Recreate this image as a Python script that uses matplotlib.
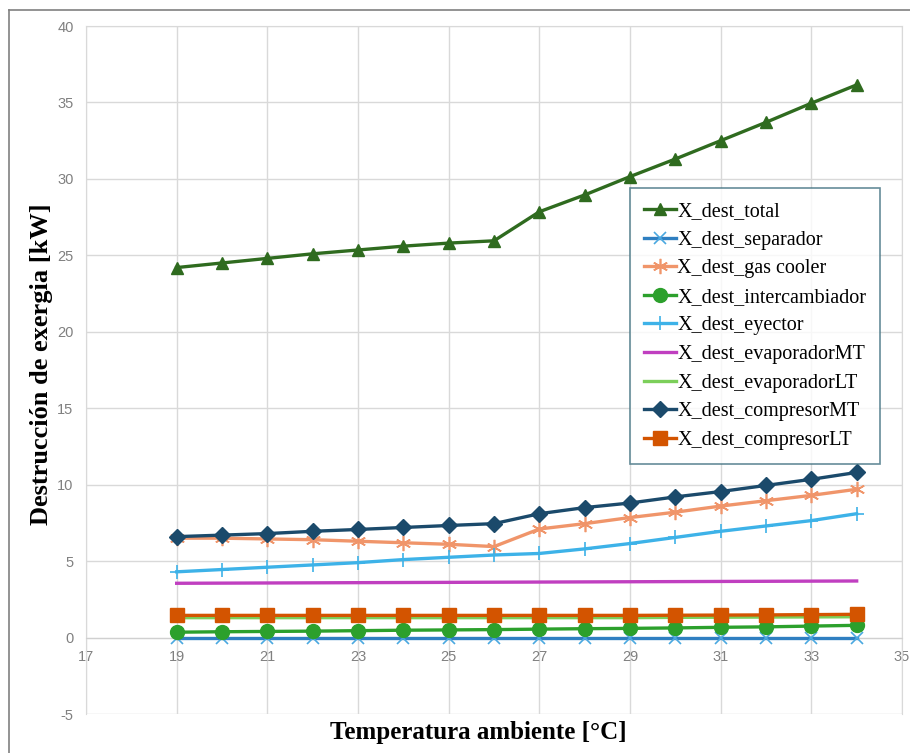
import numpy as np
import matplotlib
matplotlib.use('Agg')
import matplotlib.pyplot as plt
from matplotlib.lines import Line2D

plt.rcParams['axes.unicode_minus'] = False

# Temperatura ambiente [°C]
temp = [19, 20, 21, 22, 23, 24, 25, 26, 27, 28, 29, 30, 31, 32, 33, 34]

# Destrucción de exergía por componente [kW]
x_total = [24.2, 24.5, 24.8, 25.1, 25.35, 25.6, 25.8, 25.95, 27.85, 28.95, 30.15, 31.3, 32.5, 33.7, 34.95, 36.15]
x_separador = [0.0] * 16
x_gas_cooler = [6.5, 6.5, 6.45, 6.4, 6.3, 6.2, 6.1, 5.95, 7.1, 7.45, 7.85, 8.2, 8.6, 8.95, 9.3, 9.7]
x_intercambiador = [0.35, 0.38, 0.4, 0.42, 0.45, 0.48, 0.5, 0.52, 0.55, 0.58, 0.6, 0.63, 0.67, 0.7, 0.75, 0.8]
x_eyector = [4.3, 4.45, 4.6, 4.75, 4.9, 5.1, 5.25, 5.4, 5.5, 5.8, 6.15, 6.55, 6.95, 7.3, 7.65, 8.1]
x_evap_mt = [3.55, 3.56, 3.57, 3.58, 3.59, 3.6, 3.61, 3.62, 3.63, 3.64, 3.65, 3.66, 3.67, 3.68, 3.69, 3.7]
x_evap_lt = [1.3, 1.3, 1.3, 1.3, 1.3, 1.3, 1.3, 1.3, 1.3, 1.3, 1.3, 1.32, 1.33, 1.34, 1.35, 1.36]
x_comp_mt = [6.6, 6.7, 6.8, 6.95, 7.07, 7.2, 7.33, 7.45, 8.1, 8.5, 8.8, 9.2, 9.55, 9.95, 10.35, 10.8]
x_comp_lt = [1.45, 1.45, 1.45, 1.45, 1.45, 1.45, 1.45, 1.45, 1.45, 1.45, 1.45, 1.46, 1.47, 1.48, 1.5, 1.52]

# name, values, line colour, marker, marker colour, marker size
series = [
    ('X_dest_total', x_total, '#2f6b1f', '^', '#2f6b1f', 9),
    ('X_dest_separador', x_separador, '#2f7fc1', 'x', '#4aa8e0', 9),
    ('X_dest_gas cooler', x_gas_cooler, '#f0956a', (6, 2, 0), '#f0956a', 11),
    ('X_dest_intercambiador', x_intercambiador, '#2ca02c', 'o', '#2ca02c', 10),
    ('X_dest_eyector', x_eyector, '#3db2e8', '+', '#3db2e8', 10),
    ('X_dest_evaporadorMT', x_evap_mt, '#c03fc0', None, None, 0),
    ('X_dest_evaporadorLT', x_evap_lt, '#7ccf5a', None, None, 0),
    ('X_dest_compresorMT', x_comp_mt, '#1b4a6b', 'D', '#1b4a6b', 8),
    ('X_dest_compresorLT', x_comp_lt, '#d35400', 's', '#d35400', 10),
]

fig = plt.figure(figsize=(9.1, 7.53), dpi=100)
ax = fig.add_axes([86 / 910, 1 - 714 / 753, 816 / 910, 688 / 753])

# marco exterior del gráfico
fig.add_artist(Line2D([9 / 910, 9 / 910], [0, 1 - 10 / 753], transform=fig.transFigure,
                      color='#808080', lw=1.2))
fig.add_artist(Line2D([9 / 910, 1], [1 - 10 / 753, 1 - 10 / 753], transform=fig.transFigure,
                      color='#808080', lw=1.2))

# draw order: lower series first so compresorLT sits on top of evaporadorLT
order = [1, 3, 6, 8, 5, 4, 2, 7, 0]
handles = {}
for i in order:
    name, vals, color, marker, mcolor, msize = series[i]
    mew = 1.2 if marker in ('x', '+', (6, 2, 0)) else 1.0
    line, = ax.plot(temp, vals, color=color, lw=2.4, marker=marker, markersize=msize,
                    markerfacecolor=mcolor, markeredgecolor=mcolor, markeredgewidth=mew,
                    label=name, zorder=3 + i * 0.1)
    handles[i] = line

ax.set_xlim(17, 35)
ax.set_ylim(-5, 40)
ax.set_xticks(np.arange(17, 36, 2))
ax.set_yticks(np.arange(-5, 41, 5))
ax.grid(True, color='#d9d9d9', lw=1.0, zorder=0)
ax.set_axisbelow(True)

for s in ['top', 'right', 'left']:
    ax.spines[s].set_color('#d9d9d9')
ax.spines['bottom'].set_position(('data', 0))
ax.spines['bottom'].set_color('#d0d0d0')
ax.tick_params(length=0, colors='#808080', labelsize=10.5)
ax.tick_params(axis='x', pad=9)
ax.tick_params(axis='y', pad=9)
for lab in ax.get_xticklabels() + ax.get_yticklabels():
    lab.set_family(['Liberation Sans Narrow', 'Liberation Sans', 'DejaVu Sans'])

fig.text(478 / 910, 1 - 733 / 753, 'Temperatura ambiente [°C]', ha='center', va='center',
         family='Liberation Serif', fontweight='bold', fontsize=18)
fig.text(42 / 910, 1 - 364 / 753, 'Destrucción de exergia [kW]', ha='center', va='center',
         rotation=90, family='Liberation Serif', fontweight='bold', fontsize=19)

leg = ax.legend([handles[i] for i in range(9)], [s[0] for s in series],
                loc='upper left', bbox_to_anchor=((630 - 86) / 816, (714 - 188) / 688),
                prop={'family': 'Liberation Serif', 'size': 14.5}, frameon=True, fancybox=False,
                handlelength=1.6, handletextpad=0.05, labelspacing=0.47, borderpad=0.7,
                borderaxespad=0)
leg.get_frame().set_edgecolor('#3f7080')
leg.get_frame().set_linewidth(1.2)

fig.savefig('out.png', dpi=100, facecolor='white')
